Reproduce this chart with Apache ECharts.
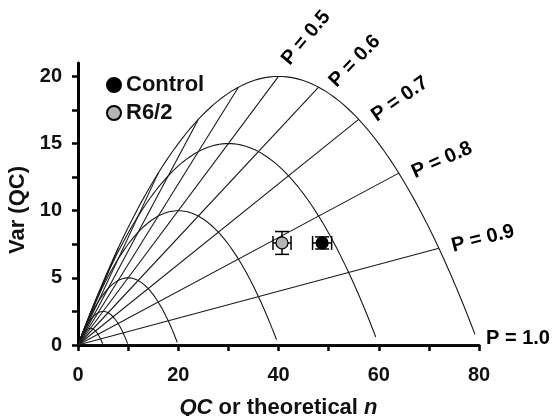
<!DOCTYPE html>
<html>
<head>
<meta charset="utf-8">
<script src="https://cdn.jsdelivr.net/npm/echarts@6/dist/echarts.min.js"></script>
<style>
  html, body { margin: 0; padding: 0; background: #fff; }
  #main { width: 553px; height: 416px; }
</style>
</head>
<body>
<div id="main"></div>
<script>
// binomial model: number of sites n and release probability P
var nSites = [5, 10, 20, 40, 60, 80];
var pLines = [0.1, 0.2, 0.3, 0.4, 0.5, 0.6, 0.7, 0.8, 0.9, 1.0];
var pLabels = [0.5, 0.6, 0.7, 0.8, 0.9, 1.0];
var pSteps = 99; // curves drawn for P = 0 .. 0.99

// measured values (mean +/- SEM)
var groups = ['Control', 'R6/2'];
var qcMean = [48.7, 40.7];
var qcErr = [1.9, 1.8];
var varMean = [7.6, 7.6];
var varErr = [0.45, 0.85];

// axis ticks
var xTicks = [0, 10, 20, 30, 40, 50, 60, 70, 80];
var xTickLabels = [0, 20, 40, 60, 80];
var yTicks = [0, 2.5, 5, 7.5, 10, 12.5, 15, 17.5, 20];
var yTickLabels = [0, 5, 10, 15, 20];

var font = '"Liberation Sans", Arial, sans-serif';
var nMax = Math.max.apply(null, nSites);

// label placement for the P = ... texts
var labelRotate = [50, 46, 35, 24, 14, 0];
var labelShift = [[7, -14], [14, -3], [15, -2], [14, 0], [13, -2], [7, -7]];

var series = [];

// parabolas: mean = nP, var = nP(1-P)
nSites.forEach(function (n) {
  var pts = [];
  for (var k = 0; k <= pSteps; k++) {
    var p = k / 100;
    pts.push([n * p, n * p * (1 - p)]);
  }
  series.push({
    type: 'line', data: pts, showSymbol: false, silent: true, z: 1,
    lineStyle: { color: '#1a1a1a', width: 1.1 }
  });
});

// constant P lines out to the largest n
pLines.forEach(function (p) {
  series.push({
    type: 'line', data: [[0, 0], [nMax * p, nMax * p * (1 - p)]],
    showSymbol: false, silent: true, z: 1,
    lineStyle: { color: '#1a1a1a', width: 1.1 }
  });
});

// P labels at the end of the lines
series.push({
  type: 'scatter', symbolSize: 0, silent: true, z: 3,
  itemStyle: { opacity: 1 },
  data: pLabels.map(function (p, i) {
    return {
      value: [nMax * p, nMax * p * (1 - p)],
      label: {
        show: true,
        formatter: 'P = ' + p.toFixed(1),
        position: labelShift[i],
        rotate: labelRotate[i],
        align: 'left', verticalAlign: 'middle',
        fontSize: 20, fontWeight: 'bold', fontFamily: font,
        color: '#000', opacity: 1, textBorderWidth: 0
      }
    };
  })
});

// error bars
series.push({
  type: 'custom', z: 4, silent: true,
  data: groups.map(function (g, i) { return [qcMean[i], varMean[i], qcErr[i], varErr[i]]; }),
  encode: { x: 0, y: 1 },
  renderItem: function (params, api) {
    var x = api.value(0), y = api.value(1), ex = api.value(2), ey = api.value(3);
    var l = api.coord([x - ex, y]), r = api.coord([x + ex, y]);
    var t = api.coord([x, y + ey]), b = api.coord([x, y - ey]);
    var cap = 7;
    var st = { stroke: '#000', lineWidth: 1.5 };
    function seg(x1, y1, x2, y2) {
      return { type: 'line', shape: { x1: x1, y1: y1, x2: x2, y2: y2 }, style: st };
    }
    return {
      type: 'group',
      children: [
        seg(l[0], l[1], r[0], r[1]),
        seg(l[0], l[1] - cap, l[0], l[1] + cap),
        seg(r[0], r[1] - cap, r[0], r[1] + cap),
        seg(t[0], t[1], b[0], b[1]),
        seg(t[0] - cap, t[1], t[0] + cap, t[1]),
        seg(b[0] - cap, b[1], b[0] + cap, b[1])
      ]
    };
  }
});

// group means
var fills = ['#000', '#b4b4b4'];
groups.forEach(function (g, i) {
  series.push({
    name: g, type: 'scatter', symbol: 'circle', symbolSize: 12, z: 5,
    data: [[qcMean[i], varMean[i]]],
    itemStyle: { color: fills[i], borderColor: '#000', borderWidth: 1.2, opacity: 1 }
  });
});

var chart = echarts.init(document.getElementById('main'));
chart.setOption({
  animation: false,
  grid: { left: 78, right: 74, top: 63, bottom: 71, outerBoundsMode: 'none' },
  legend: {
    data: groups.map(function (g) { return { name: g, icon: 'circle' }; }),
    orient: 'vertical', left: 101, top: 69,
    itemWidth: 14, itemHeight: 14, itemGap: 6,
    textStyle: { fontSize: 22, fontWeight: 'bold', fontFamily: font, color: '#111', lineHeight: 22 }
  },
  xAxis: {
    type: 'value', min: 0, max: 80,
    name: '{i|QC} or theoretical {i|n}', nameLocation: 'middle', nameGap: 52,
    nameTextStyle: {
      fontSize: 22, fontWeight: 'bold', fontFamily: font, color: '#111',
      rich: { i: { fontSize: 22, fontWeight: 'bold', fontStyle: 'italic', fontFamily: font, color: '#111' } }
    },
    splitLine: { show: false },
    axisLine: { lineStyle: { color: '#000', width: 3 } },
    axisTick: { customValues: xTicks, length: 6, lineStyle: { color: '#000', width: 2.5 } },
    axisLabel: { customValues: xTickLabels, margin: 20, fontSize: 20, fontWeight: 'bold', fontFamily: font, color: '#111' }
  },
  yAxis: {
    type: 'value', min: 0, max: 21,
    name: 'Var (QC)', nameLocation: 'middle', nameGap: 37,
    nameTextStyle: { fontSize: 22, fontWeight: 'bold', fontFamily: font, color: '#111', padding: [0, 12, 0, 0] },
    splitLine: { show: false },
    axisLine: { lineStyle: { color: '#000', width: 3 } },
    axisTick: { customValues: yTicks, length: 6, lineStyle: { color: '#000', width: 2.5 } },
    axisLabel: { customValues: yTickLabels, margin: 16, fontSize: 20, fontWeight: 'bold', fontFamily: font, color: '#111' }
  },
  series: series
});

window.addEventListener('resize', function () {
  chart.resize();
});
</script>
</body>
</html>
